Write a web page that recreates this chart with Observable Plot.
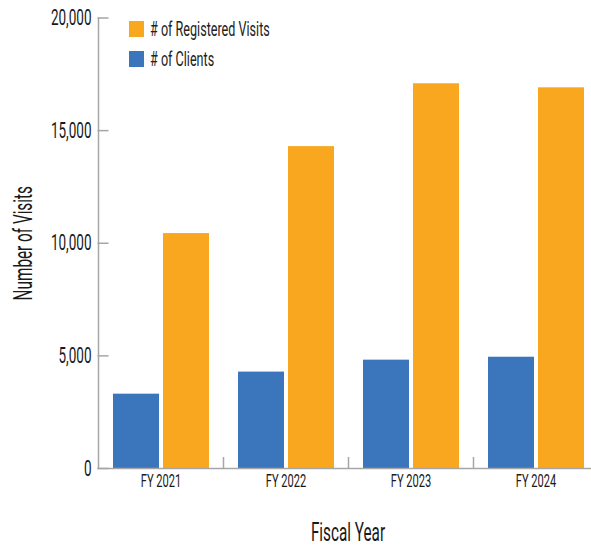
<!DOCTYPE html>
<html>
<head>
<meta charset="utf-8">
<script src="https://cdn.jsdelivr.net/npm/d3@7"></script>
<script src="https://cdn.jsdelivr.net/npm/@observablehq/plot@0.6"></script>
<style>
  html, body { margin: 0; padding: 0; background: #fff; }
  #wrap { position: relative; width: 591px; height: 545px; overflow: hidden; }
  .legend { position: absolute; left: 129px; font-family: Roboto, sans-serif; font-weight: 400; font-size: 21px; color: #222; line-height: 16px; white-space: nowrap; }
  .legend .sw { display: inline-block; width: 15px; height: 16px; vertical-align: top; }
  .legend .lt { display: inline-block; vertical-align: top; margin-left: 6px; transform-origin: 0 50%; }
</style>
</head>
<body>
<div id="wrap"></div>
<script>
// ---- data ----
const years = ["FY 2021", "FY 2022", "FY 2023", "FY 2024"];
const clients = [3300, 4280, 4810, 4940];
const visits = [10430, 14290, 17080, 16900];
const yTicks = [0, 5000, 10000, 15000, 20000];
const seriesNames = ["# of Registered Visits", "# of Clients"];
const seriesColors = ["#F8A71E", "#3B75BB"];

const data = years.map((year, i) => ({year, clients: clients[i], visits: visits[i]}));
const gray = "#a6a6a6";
const SQUEEZE = 0.6;

const plot = Plot.plot({
  width: 591,
  height: 545,
  marginLeft: 97.5,
  marginRight: -6.5,
  marginTop: 17.5,
  marginBottom: 77,
  style: {fontFamily: "Roboto, sans-serif", fontWeight: 400, color: "#1a1a1a", background: "#fff"},
  x: {domain: years, padding: 0, label: null},
  y: {domain: [0, 20000], label: null},
  marks: [
    Plot.barY(data, {x: "year", y: "clients", fill: seriesColors[1], insetLeft: 15, insetRight: 64}),
    Plot.barY(data, {x: "year", y: "visits", fill: seriesColors[0], insetLeft: 65, insetRight: 14}),
    Plot.ruleY([0], {stroke: gray, strokeWidth: 1.5}),
    Plot.ruleX(years, {x: d => d, dx: -62.5, y1: 0, y2: d => d === years[0] ? 20000 : 490, stroke: gray, strokeWidth: 1.5}),
    Plot.axisY({ticks: yTicks, tickSize: 11, dx: 11, tickFormat: () => "", stroke: gray, strokeWidth: 1.5, label: null}),
    Plot.axisY({ticks: yTicks, tickSize: 0, tickPadding: 6.5, tickFormat: d3.format(","), fontSize: 22.5,
                label: "Number of Visits", labelAnchor: "center", labelArrow: "none", labelOffset: 84}),
    Plot.axisX({tickSize: 0, tickPadding: 5, fontSize: 18.5,
                label: "Fiscal Year", labelAnchor: "center", labelArrow: "none", labelOffset: 72})
  ]
});

const wrap = document.getElementById("wrap");
wrap.appendChild(plot);

// axis label font size
d3.select(plot).selectAll("g[aria-label='y-axis label'] text, g[aria-label='x-axis label'] text")
  .attr("font-size", 25.5);

// legend (HTML overlay)
seriesNames.forEach((name, i) => {
  const div = document.createElement("div");
  div.className = "legend";
  div.style.top = (20.7 + i * 30) + "px";
  div.innerHTML = `<span class="sw" style="background:${seriesColors[i]}"></span><span class="lt">${name}</span>`;
  wrap.appendChild(div);
  div.querySelector(".lt").style.transform = `scaleX(${SQUEEZE})`;
});

// condense svg text
plot.querySelectorAll("text").forEach(t => {
  const w = t.getComputedTextLength();
  if (w > 0) {
    t.setAttribute("textLength", w * SQUEEZE);
    t.setAttribute("lengthAdjust", "spacingAndGlyphs");
  }
});
</script>
</body>
</html>
